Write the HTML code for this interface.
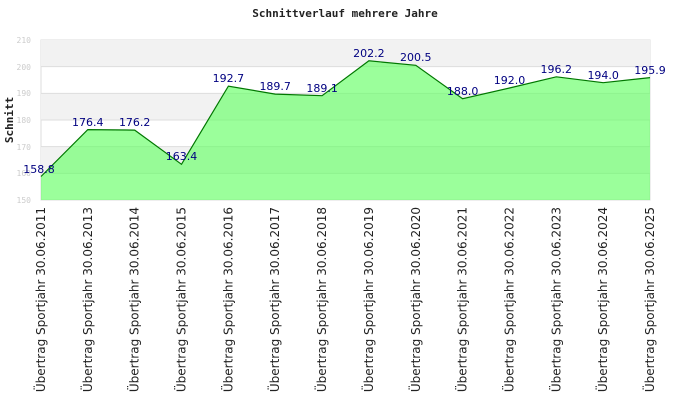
<!DOCTYPE html>
<html><head><meta charset="utf-8"><style>body{margin:0;background:#fff}svg{display:block}</style></head><body>
<svg width="690" height="420" xmlns="http://www.w3.org/2000/svg">
<text x="345" y="17" text-anchor="middle" font-family="DejaVu Sans Mono, monospace" font-weight="bold" font-size="11" fill="#222">Schnittverlauf mehrere Jahre</text>
<rect x="41" y="40" width="609" height="160" fill="#fff" stroke="#ddd"/>
<rect x="41" y="40" width="609" height="26.67" fill="#f2f2f2"/>
<rect x="41" y="93.33" width="609" height="26.67" fill="#f2f2f2"/>
<rect x="41" y="146.67" width="609" height="26.67" fill="#f2f2f2"/>
<g stroke="#ddd"><line x1="41" x2="650" y1="66.67" y2="66.67"/><line x1="41" x2="650" y1="93.33" y2="93.33"/><line x1="41" x2="650" y1="120" y2="120"/><line x1="41" x2="650" y1="146.67" y2="146.67"/><line x1="41" x2="650" y1="173.33" y2="173.33"/></g>
<polygon fill="#66ff66" fill-opacity="0.65" points="41,200 41,176.5 87.8,129.6 134.7,130.1 181.5,164.3 228.4,86.1 275.2,94.1 322.1,95.7 368.9,60.8 415.8,65.3 462.6,98.7 509.5,88 556.3,76.8 603.2,82.7 650,77.6 650,200"/>
<polyline fill="none" stroke="#007700" stroke-width="1.2" points="41,176.5 87.8,129.6 134.7,130.1 181.5,164.3 228.4,86.1 275.2,94.1 322.1,95.7 368.9,60.8 415.8,65.3 462.6,98.7 509.5,88 556.3,76.8 603.2,82.7 650,77.6"/>
<g font-family="DejaVu Sans Mono, monospace" font-size="8" fill="#ccc" text-anchor="end">
<text x="31" y="43">210</text><text x="31" y="70">200</text><text x="31" y="96">190</text><text x="31" y="123">180</text><text x="31" y="150">170</text><text x="31" y="176">160</text><text x="31" y="203">150</text></g>
<text transform="translate(13,120) rotate(-90)" text-anchor="middle" font-family="DejaVu Sans Mono, monospace" font-weight="bold" font-size="11" fill="#222">Schnitt</text>
<g font-family="DejaVu Sans, sans-serif" font-size="11" fill="#000080" text-anchor="middle">
<text x="39" y="173">158.8</text><text x="87.8" y="126">176.4</text><text x="134.7" y="126">176.2</text><text x="181.5" y="160">163.4</text><text x="228.4" y="82">192.7</text><text x="275.2" y="90">189.7</text><text x="322.1" y="92">189.1</text><text x="368.9" y="57">202.2</text><text x="415.8" y="61">200.5</text><text x="462.6" y="95">188.0</text><text x="509.5" y="84">192.0</text><text x="556.3" y="73">196.2</text><text x="603.2" y="79">194.0</text><text x="650" y="74">195.9</text></g>
<g font-family="DejaVu Sans, sans-serif" font-size="12" fill="#222" text-anchor="end">
<text transform="translate(45,207) rotate(-90)">Übertrag Sportjahr 30.06.2011</text>
<text transform="translate(91.8,207) rotate(-90)">Übertrag Sportjahr 30.06.2013</text>
<text transform="translate(138.7,207) rotate(-90)">Übertrag Sportjahr 30.06.2014</text>
<text transform="translate(185.5,207) rotate(-90)">Übertrag Sportjahr 30.06.2015</text>
<text transform="translate(232.4,207) rotate(-90)">Übertrag Sportjahr 30.06.2016</text>
<text transform="translate(279.2,207) rotate(-90)">Übertrag Sportjahr 30.06.2017</text>
<text transform="translate(326.1,207) rotate(-90)">Übertrag Sportjahr 30.06.2018</text>
<text transform="translate(372.9,207) rotate(-90)">Übertrag Sportjahr 30.06.2019</text>
<text transform="translate(419.8,207) rotate(-90)">Übertrag Sportjahr 30.06.2020</text>
<text transform="translate(466.6,207) rotate(-90)">Übertrag Sportjahr 30.06.2021</text>
<text transform="translate(513.5,207) rotate(-90)">Übertrag Sportjahr 30.06.2022</text>
<text transform="translate(560.3,207) rotate(-90)">Übertrag Sportjahr 30.06.2023</text>
<text transform="translate(607.2,207) rotate(-90)">Übertrag Sportjahr 30.06.2024</text>
<text transform="translate(654,207) rotate(-90)">Übertrag Sportjahr 30.06.2025</text>
</g>
</svg>
</body></html>
